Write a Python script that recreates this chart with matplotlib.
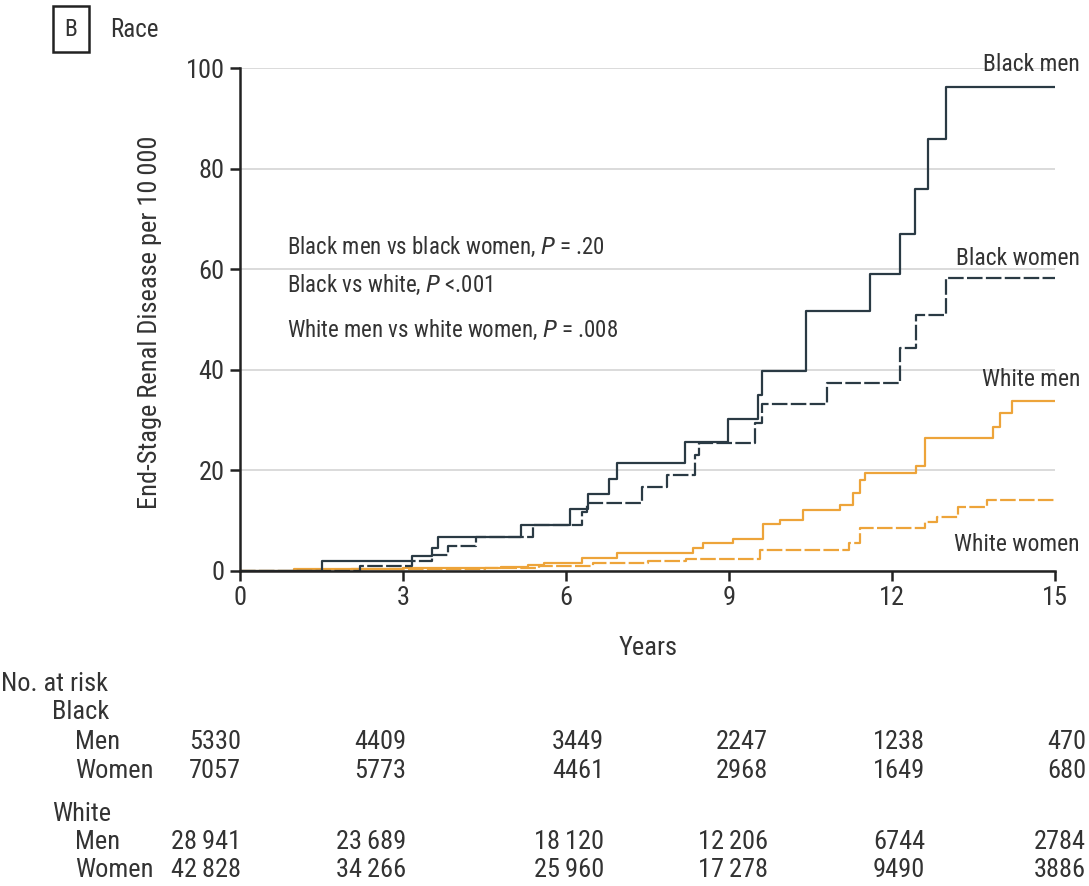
import matplotlib
matplotlib.use("Agg")
import matplotlib.pyplot as plt
import matplotlib.transforms as mtransforms

plt.rcParams['font.family'] = ['Liberation Sans Narrow', 'Roboto Condensed', 'DejaVu Sans']

# step curves (years, ESRD per 10 000)
bm_t = [0, 1.5, 3.17, 3.53, 3.65, 5.18, 6.07, 6.4, 6.8, 6.94, 8.19, 8.98, 9.53, 9.6, 10.42, 11.6, 12.15, 12.42, 12.67, 13.0, 15]
bm_v = [0, 2, 3, 4.5, 6.8, 9.1, 12.3, 15.3, 18.3, 21.5, 25.7, 30.2, 35, 39.8, 51.6, 59, 67, 76, 85.9, 96.3, 96.3]

bw_t = [0, 2.2, 3.17, 3.53, 3.83, 4.35, 5.4, 6.3, 6.38, 7.39, 7.85, 8.37, 8.45, 9.48, 9.6, 10.8, 12.15, 12.45, 13.0, 15]
bw_v = [0, 1, 2, 3.2, 5.0, 6.8, 9.1, 11.8, 13.6, 16.7, 19.1, 23, 25.4, 29.4, 33.2, 37.4, 44.3, 50.9, 58.2, 58.2]

wm_t = [0, 1.0, 3.0, 4.8, 5.3, 5.6, 6.3, 6.93, 8.34, 8.53, 9.08, 9.63, 9.94, 10.37, 11.05, 11.29, 11.41, 11.5, 12.45, 12.6, 13.86, 13.99, 14.2, 15]
wm_v = [0, 0.3, 0.5, 0.8, 1.2, 1.6, 2.6, 3.6, 4.5, 5.6, 6.3, 9.3, 10.1, 12.1, 13.1, 15.5, 18.1, 19.5, 20.9, 26.4, 28.7, 31.4, 33.7, 33.7]

ww_t = [0, 2.0, 4.5, 5.5, 6.5, 7.5, 8.2, 9.57, 11.2, 11.41, 12.6, 12.82, 13.22, 13.74, 15]
ww_v = [0, 0.3, 0.6, 1.0, 1.5, 1.9, 2.3, 4.2, 5.6, 8.5, 9.8, 10.8, 12.8, 14.1, 14.1]

series_labels = ['Black men', 'Black women', 'White men', 'White women']

# number at risk
risk_years = [0, 3, 6, 9, 12, 15]
risk_black_men = ['5330', '4409', '3449', '2247', '1238', '470']
risk_black_women = ['7057', '5773', '4461', '2968', '1649', '680']
risk_white_men = ['28\u2009941', '23\u2009689', '18\u2009120', '12\u2009206', '6744', '2784']
risk_white_women = ['42\u2009828', '34\u2009266', '25\u2009960', '17\u2009278', '9490', '3886']

DARK = '#2a3a44'
ORANGE = '#eda43a'
TXT = '#333333'

fig = plt.figure(figsize=(10.89, 8.86), dpi=100)
ax = fig.add_axes([240/1089, 1-571/886, 815/1089, 503/886])

ax.step(wm_t, wm_v, where='post', color=ORANGE, lw=1.6)
ax.step(ww_t, ww_v, where='post', color=ORANGE, lw=1.6, dashes=(7, 1.5))
ax.step(bw_t, bw_v, where='post', color=DARK, lw=1.6, dashes=(7, 1.5))
ax.step(bm_t, bm_v, where='post', color=DARK, lw=1.6)

ax.set_xlim(0, 15)
ax.set_ylim(0, 100)
ax.set_xticks(risk_years)
ax.set_yticks([0, 20, 40, 60, 80, 100])
ax.yaxis.grid(True, color='#d4d4d4', lw=1.2)
ax.set_axisbelow(True)
for s in ['top', 'right']:
    ax.spines[s].set_visible(False)
for s in ['left', 'bottom']:
    ax.spines[s].set_color('#222222')
    ax.spines[s].set_linewidth(1.8)
ax.tick_params(axis='both', length=7, width=1.8, color='#222222', labelsize=19, labelcolor=TXT, pad=4)

# curve labels
label_y = [100.6, 62.2, 38.0, 5.2]
for name, yy in zip(series_labels, label_y):
    ax.text(15.46, yy, name, ha='right', va='center', fontsize=17, color=TXT, clip_on=False)

# p values
ax.text(0.87, 64.4, 'Black men vs black women, $\\it{P}$ = .20', fontsize=16.5, color=TXT, va='center')
ax.text(0.87, 56.9, 'Black vs white, $\\it{P}$ <.001', fontsize=16.5, color=TXT, va='center')
ax.text(0.87, 47.9, 'White men vs white women, $\\it{P}$ = .008', fontsize=16.5, color=TXT, va='center')

fig.text(150/1089, 1-322/886, 'End-Stage Renal Disease per 10\u2009000', rotation=90,
         ha='center', va='center', fontsize=19, color=TXT)
fig.text(648/1089, 1-648/886, 'Years', ha='center', va='center', fontsize=19, color=TXT)

fig.text(71/1089, 1-29/886, 'B', ha='center', va='center', fontsize=17, color=TXT,
         bbox=dict(boxstyle='square,pad=0.5', fc='white', ec='#222222', lw=1.8))
fig.text(110/1089, 1-30/886, 'Race', ha='left', va='center', fontsize=18, color=TXT)

# no. at risk table
fig.text(1/1089, 1-684/886, 'No. at risk', ha='left', va='center', fontsize=19, color=TXT)
fig.text(52/1089, 1-712/886, 'Black', ha='left', va='center', fontsize=19, color=TXT)
fig.text(52/1089, 1-814/886, 'White', ha='left', va='center', fontsize=19, color=TXT)
row_names = ['Men', 'Women', 'Men', 'Women']
row_y = [742, 771, 842, 870]
rows = [risk_black_men, risk_black_women, risk_white_men, risk_white_women]
col_x = [0.02, 3.06, 6.70, 9.72, 12.61, 15.57]
trans = mtransforms.blended_transform_factory(ax.transData, fig.transFigure)
for name, yy, vals in zip(row_names, row_y, rows):
    fig.text(75/1089, 1-yy/886, name, ha='left', va='center', fontsize=19, color=TXT)
    for cx, v in zip(col_x, vals):
        ax.text(cx, 1-yy/886, v, transform=trans, ha='right', va='center',
                fontsize=19, color=TXT, clip_on=False)

fig.savefig('out.png', dpi=100)
